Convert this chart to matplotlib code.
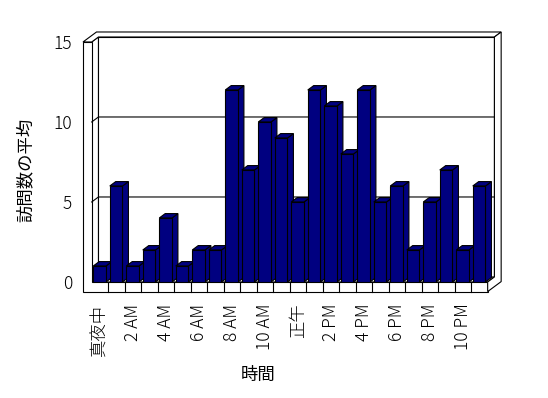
import matplotlib
matplotlib.use('Agg')
import matplotlib.pyplot as plt
from matplotlib.patches import Polygon

plt.rcParams['font.family'] = ['Noto Sans CJK JP', 'DejaVu Sans']
plt.rcParams['font.weight'] = 'light'

# data
hours = ['真夜中', '1 AM', '2 AM', '3 AM', '4 AM', '5 AM', '6 AM', '7 AM',
         '8 AM', '9 AM', '10 AM', '11 AM', '正午', '1 PM', '2 PM', '3 PM',
         '4 PM', '5 PM', '6 PM', '7 PM', '8 PM', '9 PM', '10 PM', '11 PM']
visits = [1, 6, 1, 2, 4, 1, 2, 2, 12, 7, 10, 9, 5, 12, 11, 8, 12, 5, 6, 2, 5, 7, 2, 6]
yticks = [0, 5, 10, 15]

n = len(hours)
ymax = 15

# oblique projection: depth z in [0,1]
DX, DY = 0.818, 0.625
def P(x, y, z):
    return (x + z * DX, y + z * DY)

tx, ty = 0.527, 0.6      # wall / floor thickness
zw = 0.5                 # back wall inner face depth
zb = 0.44                # bar depth

fig = plt.figure(figsize=(5.48, 3.98), dpi=100)
ax = fig.add_axes([0.1673, 0.2915, 0.7226, 0.603])
ax.set_xlim(0, n)
ax.set_ylim(0, ymax)
ax.set_facecolor('none')
for s in ax.spines.values():
    s.set_visible(False)

def face(pts, z=1, fc='white'):
    ax.add_patch(Polygon([P(*p) for p in pts], closed=True, fc=fc, ec='black',
                         lw=0.8, zorder=z, clip_on=False))

# back wall inner face
face([(0, 0, zw), (n, 0, zw), (n, ymax, zw), (0, ymax, zw)])
# floor top
face([(0, 0, 0), (n, 0, 0), (n, 0, zw), (0, 0, zw)])
# left wall inner face
face([(0, 0, 0), (0, 0, zw), (0, ymax, zw), (0, ymax, 0)])
# top of walls
face([(-tx, ymax, 0), (0, ymax, 0), (0, ymax, zw), (n, ymax, zw),
      (n, ymax, 1), (-tx, ymax, 1)])
# front face of left wall + floor
face([(-tx, -ty, 0), (n, -ty, 0), (n, 0, 0), (0, 0, 0), (0, ymax, 0), (-tx, ymax, 0)])
# right side of floor + back wall
face([(n, -ty, 0), (n, 0, 0), (n, 0, zw), (n, ymax, zw), (n, ymax, 1), (n, -ty, 1)])

# gridlines
for v in yticks[1:-1]:
    xs, ys = zip(P(0, v, 0), P(0, v, zw), P(n, v, zw))
    ax.plot(xs, ys, color='black', lw=0.8, zorder=1.5, clip_on=False)

# category ticks on floor front
for k in range(1, n):
    ax.plot([k, k], [0, -ty], color='black', lw=0.8, zorder=1.5, clip_on=False)

# bars
x0s = [i + 0.097 for i in range(n)]
bw = 0.77
bars = ax.bar(x0s, visits, width=bw, align='edge', color='#000080',
              edgecolor='black', linewidth=0.8)
for i, (b, v) in enumerate(zip(bars, visits)):
    x0, x1 = x0s[i], x0s[i] + bw
    zbase = 3 + i * 0.01
    b.set_zorder(zbase + 0.005)
    face([(x1, 0, 0), (x1, v, 0), (x1, v, zb), (x1, 0, zb)], zbase, '#000080')
    face([(x0, v, 0), (x1, v, 0), (x1, v, zb), (x0, v, zb)], zbase, '#000080')

ax.set_yticks(yticks)
ax.set_yticklabels([str(t) for t in yticks], fontsize=12.5)
ax.set_xticks([i + 0.5 for i in range(0, n, 2)])
ax.set_xticklabels(hours[::2], rotation=90, fontsize=12.5)
ax.tick_params(axis='y', length=0, pad=14)
ax.tick_params(axis='x', length=0, pad=15.5)

ax.set_ylabel('訪問数の平均', fontsize=12.5, va='center')
ax.yaxis.set_label_coords(-0.166, 0.467)
ax.set_xlabel('時間', fontsize=12.5, va='center')
ax.xaxis.set_label_coords(0.42, -0.3875)

fig.savefig('out.png', dpi=100)
